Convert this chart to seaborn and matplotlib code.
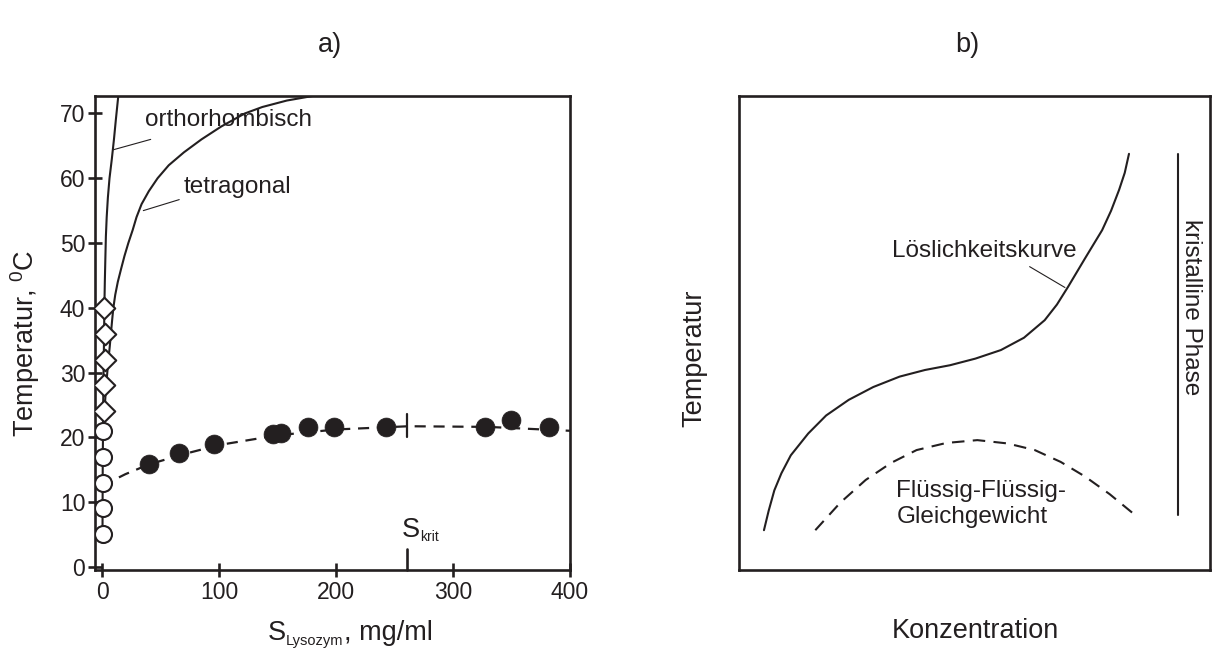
import matplotlib
matplotlib.use("Agg")
import matplotlib.pyplot as plt
from matplotlib.transforms import IdentityTransform
import numpy as np
import pandas as pd
import seaborn as sns

# ---------------- panel a) data (read from the picture) ----------------
ortho_T = [4, 10, 15, 20, 25, 30, 35, 40, 44, 48, 51, 54, 57, 60, 63, 66, 69, 72.7]
ortho_x = [0.4, 0.5, 0.6, 0.8, 1.0, 1.3, 1.7, 2.0, 2.4, 2.9, 3.3, 4.0, 5.0, 6.4, 8.4, 10.2, 11.8, 13.9]

tetra_T = [22, 24, 26, 28, 30, 32, 34, 36, 38, 40, 42, 44, 46, 48, 50, 52, 54, 56,
           58, 60, 62, 64, 66, 68, 70, 71, 72, 72.7]
tetra_x = [1.5, 2.1, 2.8, 3.6, 4.5, 5.5, 6.6, 7.6, 8.6, 9.7, 11.3, 13.5, 16.3, 19.2,
           22.5, 26.2, 29.5, 33.8, 40, 47.5, 57, 70, 85, 102, 122, 137, 158, 180]

open_x = [0.5, 0.5, 0.5, 0.5, 0.5]
open_T = [5, 9, 13, 17, 21]

diam_x = [1.8, 2.0, 2.4, 2.6, 2.0]
diam_T = [24, 28, 32, 36, 40]

fill_x = [40.4, 66.1, 95.7, 145.9, 152.7, 176.3, 198.5, 242.5, 327.4, 349.3, 382.3]
fill_T = [15.85, 17.55, 19.0, 20.5, 20.6, 21.55, 21.55, 21.55, 21.55, 22.7, 21.55]

llps_x = [0, 20, 40, 70, 100, 150, 200, 262, 330, 400]
llps_T = [12.5, 14.3, 15.8, 17.4, 18.8, 20.3, 21.2, 21.7, 21.6, 21.0]

s_krit = 261
x_ticks = [0, 100, 200, 300, 400]
y_ticks = [0, 10, 20, 30, 40, 50, 60, 70]

# ---------------- panel b) data (schematic) ----------------
sol_x = [5.3, 6.3, 7.5, 9.0, 11.0, 14.7, 18.5, 23.3, 28.5, 34.1, 39.5, 44.8, 50.2,
         55.6, 60.5, 64.9, 67.5, 69.9, 73.5, 77.1, 79.0, 80.7, 81.9, 82.8]
sol_y = [8.4, 12.5, 16.8, 20.4, 24.2, 28.8, 32.6, 35.9, 38.6, 40.8, 42.2, 43.2, 44.6,
         46.4, 49.0, 52.7, 56.0, 59.8, 65.8, 71.7, 75.8, 80.2, 83.8, 87.8]

ll_x = [16.2, 21.5, 26.9, 32.3, 37.7, 44.0, 50.6, 57.0, 62.8, 68.3, 73.5, 78.7, 83.6]
ll_y = [8.4, 14.2, 19.0, 22.6, 25.3, 26.8, 27.4, 26.7, 25.3, 22.8, 19.7, 16.0, 12.0]

cryst_x = [93.2, 93.2]
cryst_y = [11.6, 87.8]

# ---------------- styling ----------------
sns.set_theme(style="white")
plt.rcParams["font.family"] = ["Liberation Sans", "DejaVu Sans"]
plt.rcParams["mathtext.default"] = "regular"
INK = "#231f20"
FS_LAB = 19.5
FS_TICK = 16.5
FS_ANN = 17.5
DASH = (0, (5, 3.5))

W, H = 1215, 650
fig = plt.figure(figsize=(12.15, 6.5), dpi=100)
axA = fig.add_axes([95 / W, 1 - 570 / H, (570 - 95) / W, (570 - 96) / H])
axB = fig.add_axes([739 / W, 1 - 570 / H, (1210 - 739) / W, (570 - 96) / H])

for ax in (axA, axB):
    for sp in ax.spines.values():
        sp.set_color(INK)
        sp.set_linewidth(1.9)
        sp.set_visible(True)
    ax.set_facecolor("white")

# ---- panel a ----
df_o = pd.DataFrame({"x": ortho_x, "T": ortho_T})
df_t = pd.DataFrame({"x": tetra_x, "T": tetra_T})
df_l = pd.DataFrame({"x": llps_x, "T": llps_T})
sns.lineplot(data=df_o, x="x", y="T", ax=axA, color=INK, lw=1.5, sort=False, estimator=None)
sns.lineplot(data=df_t, x="x", y="T", ax=axA, color=INK, lw=1.5, sort=False, estimator=None)
sns.lineplot(data=df_l, x="x", y="T", ax=axA, color=INK, lw=1.6, sort=False,
             estimator=None, linestyle=DASH)

sns.scatterplot(x=open_x, y=open_T, ax=axA, marker="o", s=150, facecolor="white",
                edgecolor=INK, linewidth=1.5, zorder=4)
sns.scatterplot(x=diam_x, y=diam_T, ax=axA, marker="D", s=120, facecolor="white",
                edgecolor=INK, linewidth=1.5, zorder=4)
sns.scatterplot(x=fill_x, y=fill_T, ax=axA, marker="o", s=185, color=INK,
                edgecolor=INK, linewidth=0.5, zorder=5)

# S_krit markers
axA.plot([s_krit, s_krit], [20.0, 23.6], color=INK, lw=1.6, zorder=5)
axA.plot([s_krit, s_krit], [-0.5, 2.8], color=INK, lw=1.9, zorder=5, clip_on=False)

# annotations
axA.plot([9.7, 41.6], [64.4, 66.0], color=INK, lw=0.8)
axA.text(36.8, 69.0, "orthorhombisch", fontsize=FS_ANN, color=INK, ha="left", va="center")
axA.plot([35.3, 66.0], [55.0, 56.7], color=INK, lw=0.8)
axA.text(69.5, 58.7, "tetragonal", fontsize=FS_ANN, color=INK, ha="left", va="center")

axA.set_xlim(-6, 400)
axA.set_ylim(-0.5, 72.7)
axA.set_xticks(x_ticks)
axA.set_yticks(y_ticks)
axA.set_xticklabels([str(v) for v in x_ticks])
axA.set_yticklabels([str(v) for v in y_ticks])
axA.tick_params(direction="inout", length=10, width=1.9, color=INK, labelcolor=INK,
                labelsize=FS_TICK, left=True, bottom=True)
axA.tick_params(axis="y", pad=2)
axA.tick_params(axis="x", pad=3)
axA.set_xlabel("")
axA.set_ylabel("")

# ---- panel b ----
df_s = pd.DataFrame({"x": sol_x, "y": sol_y})
df_ll = pd.DataFrame({"x": ll_x, "y": ll_y})
sns.lineplot(data=df_s, x="x", y="y", ax=axB, color=INK, lw=1.5, sort=False, estimator=None)
sns.lineplot(data=df_ll, x="x", y="y", ax=axB, color=INK, lw=1.5, sort=False,
             estimator=None, linestyle=(0, (6, 4)))
axB.plot(cryst_x, cryst_y, color=INK, lw=1.5)

axB.plot([61.7, 69.2], [64.0, 59.6], color=INK, lw=0.8)
axB.text(52.0, 67.2, "Löslichkeitskurve", fontsize=FS_ANN, color=INK, ha="center", va="center")
axB.text(33.4, 13.9, "Flüssig-Flüssig-\nGleichgewicht", fontsize=FS_ANN, color=INK,
         ha="left", va="center", linespacing=1.25)
axB.text(96.0, 55.5, "kristalline Phase", fontsize=FS_ANN, color=INK, rotation=-90,
         ha="center", va="center")

axB.set_xlim(0, 100)
axB.set_ylim(0, 100)
axB.set_xticks([])
axB.set_yticks([])
axB.set_xlabel("")
axB.set_ylabel("")

# ---- figure texts ----
fig.text(330 / W, 1 - 45 / H, "a)", fontsize=FS_LAB, color=INK, ha="center", va="center")
fig.text(967 / W, 1 - 45 / H, "b)", fontsize=FS_LAB, color=INK, ha="center", va="center")
fig.text(25 / W, 1 - 343 / H, r"Temperatur, $\mathregular{^0}$C", fontsize=FS_LAB,
         color=INK, rotation=90, ha="center", va="center")
fig.text(694 / W, 1 - 358 / H, "Temperatur", fontsize=FS_LAB, color=INK, rotation=90,
         ha="center", va="center")
fig.text(975 / W, 1 - 631 / H, "Konzentration", fontsize=FS_LAB, color=INK,
         ha="center", va="center")

# text runs with small subscripts, laid out in image pixel coordinates
renderer = fig.canvas.get_renderer()


def text_run(pieces, x_left, baseline):
    """pieces: list of (string, fontsize, drop_px); positions in image pixels."""
    x = x_left
    for s, fs, drop in pieces:
        t = fig.text(x, H - (baseline + drop), s, fontsize=fs, color=INK,
                     ha="left", va="baseline", transform=IdentityTransform())
        x += t.get_window_extent(renderer).width


text_run([("S", FS_LAB, 0), ("Lysozym", 10.5, 5), (", mg/ml", FS_LAB, 0)], 268, 640)
text_run([("S", FS_LAB, 0), ("krit", 10.0, 4)], 402, 537)

fig.savefig("out.png", dpi=100, facecolor="white")
